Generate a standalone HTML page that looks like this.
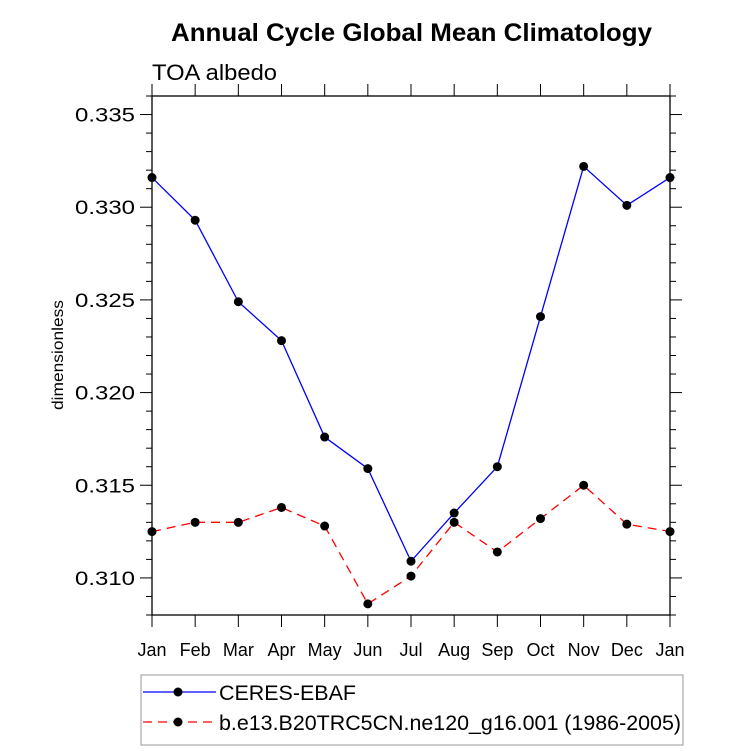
<!DOCTYPE html>
<html><head><meta charset="utf-8"><style>
body{margin:0;background:#fff}
svg{display:block;font-family:"Liberation Sans",Arial,sans-serif}
</style></head><body>
<svg id="chart" width="733" height="751" viewBox="0 0 733 751" xmlns="http://www.w3.org/2000/svg">
<text x="171" y="41" font-size="25" font-weight="bold" textLength="481" lengthAdjust="spacingAndGlyphs">Annual Cycle Global Mean Climatology</text>
<text x="152" y="80" font-size="22" textLength="125" lengthAdjust="spacingAndGlyphs">TOA albedo</text>
<text transform="translate(63,355) rotate(-90)" text-anchor="middle" font-size="16" textLength="110" lengthAdjust="spacingAndGlyphs">dimensionless</text>
<g id="axes"></g>
<g id="series"></g>
<g>
<rect x="141" y="675" width="542" height="70" fill="none" stroke="#999" stroke-width="1"/>
<line x1="143" y1="692" x2="216" y2="692" stroke="#0000ff" stroke-width="1.3"/>
<circle cx="178" cy="692" r="4.5" fill="#000"/>
<text x="219" y="700" font-size="21" textLength="137" lengthAdjust="spacingAndGlyphs">CERES-EBAF</text>
<line x1="143" y1="722" x2="216" y2="722" stroke="#ff0000" stroke-width="1.3" stroke-dasharray="9,6"/>
<circle cx="178" cy="722" r="4.5" fill="#000"/>
<text x="219" y="730" font-size="21" textLength="462" lengthAdjust="spacingAndGlyphs">b.e13.B20TRC5CN.ne120_g16.001 (1986-2005)</text>
</g>
</svg>
<script>
const months=["Jan","Feb","Mar","Apr","May","Jun","Jul","Aug","Sep","Oct","Nov","Dec","Jan"];
const ceres=[0.3316,0.3293,0.3249,0.3228,0.3176,0.3159,0.3109,0.3135,0.3160,0.3241,0.3322,0.3301,0.3316];
const model=[0.3125,0.3130,0.3130,0.3138,0.3128,0.3086,0.3101,0.3130,0.3114,0.3132,0.3150,0.3129,0.3125];
const yTicks=[0.310,0.315,0.320,0.325,0.330,0.335];
const yTickLabels=["0.310","0.315","0.320","0.325","0.330","0.335"];
const L=152,R=670,T=96,B=615,YMIN=0.308,YMAX=0.336;
const NS="http://www.w3.org/2000/svg";
function xs(i){return L+(R-L)*i/(months.length-1);}
function ys(v){return B-(v-YMIN)/(YMAX-YMIN)*(B-T);}
function mk(tag,attrs,parent){const e=document.createElementNS(NS,tag);for(const k in attrs)e.setAttribute(k,attrs[k]);parent.appendChild(e);return e;}
const ax=document.getElementById('axes');
const frame=mk('rect',{x:L,y:T,width:R-L,height:B-T,fill:'none',stroke:'#000','stroke-width':1.3},ax);


for(let k=0;k<=Math.round((YMAX-YMIN)/0.001);k++){
  const v=YMIN+k*0.001;const y=ys(v);
  const major=yTicks.some(t=>Math.abs(t-v)<1e-7);
  const len=major?12:6;
  mk('line',{x1:L-len,y1:y,x2:L,y2:y,stroke:'#000','stroke-width':1},ax);
  mk('line',{x1:R,y1:y,x2:R+len,y2:y,stroke:'#000','stroke-width':1},ax);
}
yTicks.forEach((t,i)=>{
  const tx=mk('text',{x:L-17,y:ys(t)+7,'text-anchor':'end','font-size':19,textLength:60,lengthAdjust:'spacingAndGlyphs'},ax);
  tx.textContent=yTickLabels[i];
  
  
});
months.forEach((m,i)=>{
  const x=xs(i);
  mk('line',{x1:x,y1:B,x2:x,y2:B+12,stroke:'#000','stroke-width':1},ax);
  mk('line',{x1:x,y1:T-12,x2:x,y2:T,stroke:'#000','stroke-width':1},ax);
  const tx=mk('text',{x:x,y:B+41,'text-anchor':'middle','font-size':18},ax);
  tx.textContent=m;
  
  
});
const sg=document.getElementById('series');
function drawSeries(vals,color,dash,name){
  const pts=vals.map((v,i)=>xs(i)+','+ys(v)).join(' ');
  const pl=mk('polyline',{points:pts,fill:'none',stroke:color,'stroke-width':1.3},sg);
  if(dash)pl.setAttribute('stroke-dasharray',dash);
  
  
  vals.forEach((v,i)=>{
    const c=mk('circle',{cx:xs(i),cy:ys(v),r:4.5,fill:'#000'},sg);
    
    
  });
}
drawSeries(ceres,'#0000ff',null,'ceres');
drawSeries(model,'#ff0000','9,6','model');
</script>
</body></html>
